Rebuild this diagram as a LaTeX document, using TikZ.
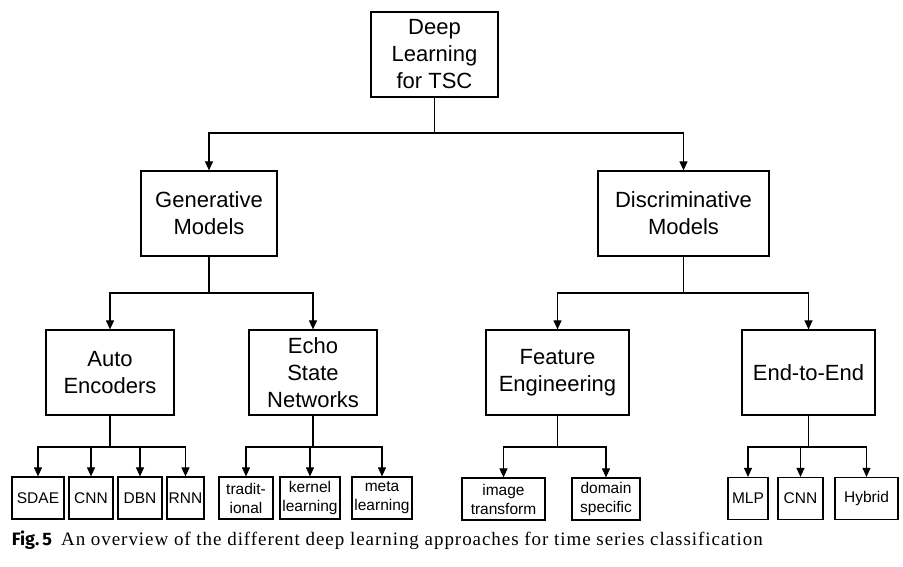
\documentclass[tikz,border=0pt]{standalone}
\usepackage{fontspec}
\setmainfont{Liberation Serif}[LetterSpace=5]
\newfontfamily\boxfont{Liberation Sans}
\newfontfamily\figfont{Fira Sans}
\usetikzlibrary{shapes,arrows.meta}
\tikzset{%
	block/.style    	= {draw, line width = 1.2pt, rectangle, align = center, inner sep = 0pt, minimum height = 85pt, font = \boxfont\fontsize{22}{27}\selectfont},
	leaf/.style			= {draw, line width = 1.2pt, rectangle, align = center, inner sep = 0pt, minimum height = 42pt, font = \boxfont\fontsize{15.5}{19}\selectfont},
	input/.style    	= {coordinate} % Junction
}

\begin{document}
\begin{tikzpicture}[x = 1pt, y = -1pt, auto, line width = 1.1pt, >={Triangle[length = 9pt, width = 8pt]}]
	\useasboundingbox (0, 0) rectangle (903, 566);
	\draw % Drawing the tree
	node at (434.5, 54.5) [block, minimum width = 127pt] (dl) {Deep\\Learning\\for TSC}
	node at (434.5, 133) [input] (j0) {}
	node at (209, 213.5) [block, minimum width = 136pt] (gen) {Generative\\Models}
	node at (683.5, 213.5) [block, minimum width = 171pt] (dis) {Discriminative\\Models}
	node at (209, 293) [input] (j1) {}
	node at (683.5, 293) [input] (j2) {}
	node at (110, 372.5) [block, minimum width = 128pt] (ae) {Auto\\Encoders}
	node at (313, 372.5) [block, minimum width = 128pt] (esn) {Echo\\State\\Networks}
	node at (557.5, 372.5) [block, minimum width = 143pt] (fe) {Feature\\Engineering}
	node at (808.5, 372.5) [block, minimum width = 133pt] (e2e) {End-to-End}
	node at (110, 447) [input] (j3) {}
	node at (313, 447) [input] (j4) {}
	node at (557.5, 447) [input] (j5) {}
	node at (808.5, 447) [input] (j6) {}
	node at (38, 498) [leaf, minimum width = 52pt] (sdae) {SDAE}
	node at (91, 498) [leaf, minimum width = 44pt] (cnn1) {CNN}
	node at (140, 498) [leaf, minimum width = 44pt] (dbn) {DBN}
	node at (185.5, 498) [leaf, minimum width = 37pt] (rnn) {RNN}
	node at (246, 498) [leaf, minimum width = 54pt] (trad) {tradit-\\ional}
	node at (310, 498) [leaf, minimum width = 60pt] (kern) {kernel\\learning}
	node at (382, 498) [leaf, minimum width = 60pt] (meta) {meta\\learning}
	node at (503.5, 499) [leaf, minimum width = 83pt] (img) {image\\transform}
	node at (606, 499) [leaf, minimum width = 68pt] (dom) {domain\\specific}
	node at (748, 498.5) [leaf, minimum width = 40pt] (mlp) {MLP}
	node at (800.5, 498.5) [leaf, minimum width = 45pt] (cnn2) {CNN}
	node at (866.5, 498.5) [leaf, minimum width = 63pt] (hyb) {Hybrid}
	node at (8, 545) [anchor = base west] (cap) {{\figfont\bfseries\fontsize{18}{21}\selectfont Fig.\kern3pt5}\hspace{0.9em}\fontsize{19}{22}\selectfont An overview of the different deep learning approaches for time series classification}
	;
	
	% Drawing the arrows
	\draw (dl) -- (j0);
	\draw[->] (j0) -| (gen);
	\draw[->] (j0) -| (dis);
	\draw (gen) -- (j1);
	\draw[->] (j1) -| (ae);
	\draw[->] (j1) -| (esn);
	\draw (dis) -- (j2);
	\draw[->] (j2) -| (fe);
	\draw[->] (j2) -| (e2e);
	\draw (ae) -- (j3);
	\draw[->] (j3) -| (sdae);
	\draw[->] (j3) -| (cnn1);
	\draw[->] (j3) -| (dbn);
	\draw[->] (j3) -| (rnn);
	\draw (esn) -- (j4);
	\draw[->] (j4) -| (trad);
	\draw[->] (j4) -| (kern);
	\draw[->] (j4) -| (meta);
	\draw (fe) -- (j5);
	\draw[->] (j5) -| (img);
	\draw[->] (j5) -| (dom);
	\draw (e2e) -- (j6);
	\draw[->] (j6) -| (mlp);
	\draw[->] (j6) -| (cnn2);
	\draw[->] (j6) -| (hyb);
\end{tikzpicture}
\end{document}
